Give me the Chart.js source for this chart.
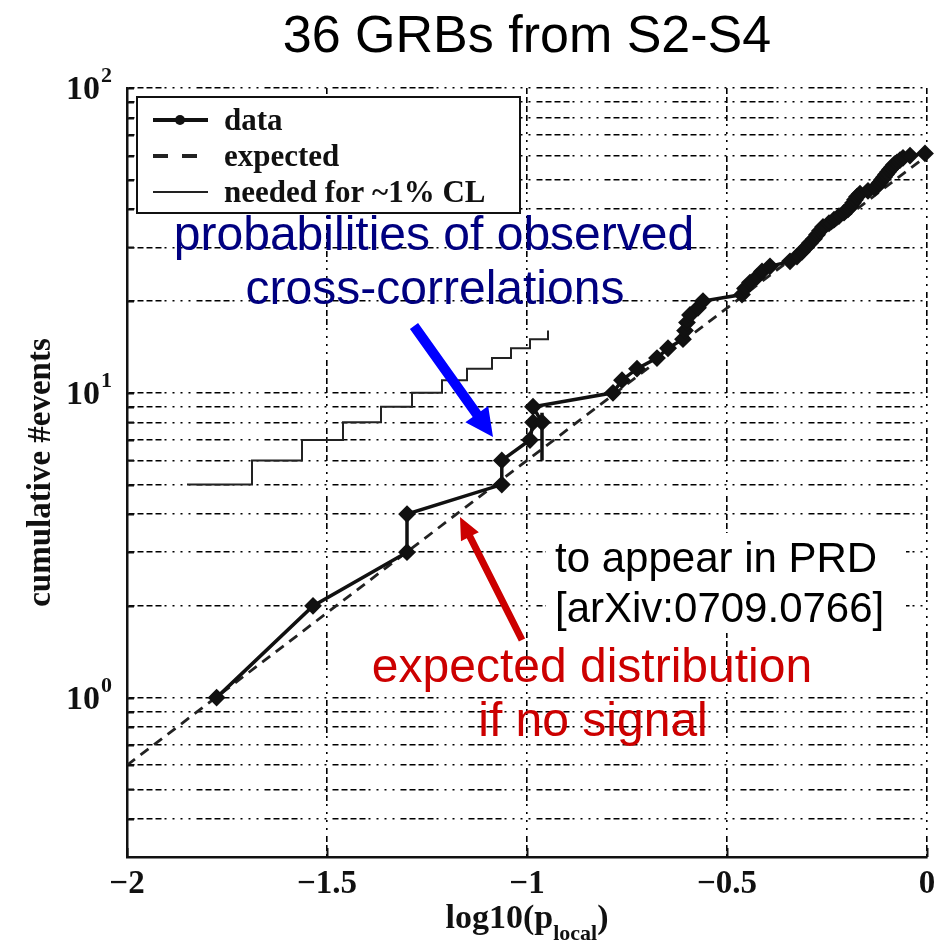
<!DOCTYPE html>
<html>
<head>
<meta charset="utf-8">
<script src="https://cdn.jsdelivr.net/npm/chart.js@4.4.1/dist/chart.umd.min.js"></script>
<style>
  html, body { margin: 0; padding: 0; background: #fff; }
  #c { display: block; }
</style>
</head>
<body>
<canvas id="c" width="944" height="945"></canvas>
<script>
// 36 GRBs from S2-S4: cumulative number of events vs log10(p_local)

// observed cross-correlations (cumulative count)
const dataX = [-1.776, -1.535, -1.30, -1.30, -1.063, -1.063, -0.9925, -0.985, -0.9625, -0.985,
               -0.785, -0.7625, -0.725, -0.675, -0.6475, -0.61, -0.605, -0.60, -0.5925, -0.5725,
               -0.56, -0.4625, -0.455, -0.4425, -0.425, -0.4125, -0.3925, -0.3425, -0.325, -0.3125,
               -0.3025, -0.2925, -0.2825, -0.275, -0.2675, -0.26, -0.245, -0.2325, -0.22, -0.2075,
               -0.1975, -0.19, -0.185, -0.18, -0.175, -0.1675, -0.1475, -0.13, -0.1225, -0.1175,
               -0.1125, -0.1075, -0.1025, -0.0975, -0.0925, -0.0875, -0.0825, -0.075, -0.0675, -0.06,
               -0.0425, -0.005];
const dataY = [1, 2, 3, 4, 5, 6, 7, 8, 8, 9,
               10, 11, 12, 13, 14, 15, 16, 17, 18, 19,
               20, 21, 22, 23, 24, 25, 26, 27, 28, 29,
               30, 31, 32, 33, 34, 35, 36, 37, 38, 39,
               40, 41, 42, 43, 44, 45, 46, 47, 48, 49,
               50, 51, 52, 53, 54, 55, 56, 57, 58, 59,
               60, 61];

// short drop near log10(p) = -0.96
const spikeX = [-0.9625, -0.9625];
const spikeY = [8.6, 6];

// expected distribution if no signal
const expectedX = [-2, 0];
const expectedY = [0.6, 60];

// needed for ~1% CL (staircase)
const neededX = [-1.85, -1.6875, -1.5625, -1.46, -1.365, -1.2875, -1.2125, -1.15, -1.0875, -1.04, -0.9925, -0.9475];
const neededY = [5, 6, 7, 8, 9, 10, 11, 12, 13, 14, 15, 16];

// axes
const xTicks = [-2, -1.5, -1, -0.5, 0];
const yGrid = [0.4, 0.5, 0.6, 0.7, 0.8, 0.9,
               1, 2, 3, 4, 5, 6, 7, 8, 9,
               10, 20, 30, 40, 50, 60, 70, 80, 90, 100];
const yLabelValues = [1, 10, 100];
const yLabelExps = ['0', '1', '2'];

const SERIF = '"Liberation Serif", "DejaVu Serif", serif';
const SANS = '"Liberation Sans", Arial, sans-serif';
const GRID_DASH = [6, 3, 6, 3, 6, 3, 6, 3, 2, 6, 2, 6, 2, 6, 2, 6];

function pts(xs, ys) {
    return xs.map(function (x, i) { return { x: x, y: ys[i] }; });
}

function arrow(ctx, x1, y1, x2, y2, color, shaftW, headW, headL) {
    const ang = Math.atan2(y2 - y1, x2 - x1);
    const len = Math.hypot(x2 - x1, y2 - y1);
    ctx.save();
    ctx.translate(x1, y1);
    ctx.rotate(ang);
    ctx.fillStyle = color;
    ctx.beginPath();
    ctx.moveTo(0, -shaftW / 2);
    ctx.lineTo(len - headL, -shaftW / 2);
    ctx.lineTo(len - headL, -headW / 2);
    ctx.lineTo(len, 0);
    ctx.lineTo(len - headL, headW / 2);
    ctx.lineTo(len - headL, shaftW / 2);
    ctx.lineTo(0, shaftW / 2);
    ctx.closePath();
    ctx.fill();
    ctx.restore();
}

function fmtX(v) {
    return v < 0 ? '\u2212' + Math.abs(v) : String(v);
}

const decorations = {
    id: 'decorations',
    afterDraw: function (chart) {
        const ctx = chart.ctx;
        const a = chart.chartArea;
        const xs = chart.scales.x, ys = chart.scales.y;
        ctx.save();

        // inner tick marks
        ctx.strokeStyle = '#111';
        ctx.lineWidth = 2;
        ctx.beginPath();
        yGrid.forEach(function (v) {
            const py = Math.round(ys.getPixelForValue(v)) + 0.5;
            ctx.moveTo(a.left, py); ctx.lineTo(a.left + 7, py);
        });
        xTicks.forEach(function (v) {
            const px = Math.round(xs.getPixelForValue(v)) + 0.5;
            ctx.moveTo(px, a.bottom); ctx.lineTo(px, a.bottom - 9);
        });
        ctx.stroke();

        // x tick labels
        ctx.fillStyle = '#111';
        ctx.font = 'bold 33px ' + SERIF;
        ctx.textAlign = 'center';
        ctx.textBaseline = 'alphabetic';
        xTicks.forEach(function (v) {
            ctx.fillText(fmtX(v), xs.getPixelForValue(v), a.bottom + 36);
        });

        // y tick labels 10^n
        yLabelValues.forEach(function (v, i) {
            const py = ys.getPixelForValue(v);
            ctx.font = 'bold 34px ' + SERIF;
            ctx.textAlign = 'right';
            ctx.fillText('10', 100, py + 11);
            ctx.font = 'bold 22px ' + SERIF;
            ctx.textAlign = 'left';
            ctx.fillText(yLabelExps[i], 101, py - 6);
        });

        // axis titles
        ctx.save();
        ctx.translate(41, (a.top + a.bottom) / 2);
        ctx.rotate(-Math.PI / 2);
        ctx.font = 'bold 33px ' + SERIF;
        ctx.textAlign = 'center';
        ctx.textBaseline = 'middle';
        ctx.fillText('cumulative #events', 0, 0);
        ctx.restore();

        ctx.textBaseline = 'alphabetic';
        ctx.textAlign = 'left';
        const mainF = 'bold 34px ' + SERIF, subF = 'bold 22px ' + SERIF;
        ctx.font = mainF; const w1 = ctx.measureText('log10(p').width;
        const w3 = ctx.measureText(')').width;
        ctx.font = subF; const w2 = ctx.measureText('local').width;
        let tx = (a.left + a.right) / 2 - (w1 + w2 + w3) / 2;
        ctx.font = mainF; ctx.fillText('log10(p', tx, 928); tx += w1;
        ctx.font = subF; ctx.fillText('local', tx, 940); tx += w2;
        ctx.font = mainF; ctx.fillText(')', tx, 928);

        // legend
        ctx.fillStyle = '#fff';
        ctx.fillRect(137, 97, 383, 116);
        ctx.strokeStyle = '#111';
        ctx.lineWidth = 2;
        ctx.strokeRect(137, 97, 383, 116);
        const rows = [120, 156, 192];
        const labels = chart.data.datasets.filter(function (d) { return d.legend; });
        labels.forEach(function (d, i) {
            const ry = rows[i];
            ctx.save();
            ctx.strokeStyle = d.borderColor;
            ctx.lineWidth = d.legendWidth;
            ctx.setLineDash(d.legendDash || []);
            ctx.beginPath();
            ctx.moveTo(153, ry); ctx.lineTo(d.legendDash ? 197 : 208, ry);
            ctx.stroke();
            if (d.pointRadius) {
                ctx.fillStyle = d.borderColor;
                ctx.beginPath();
                ctx.arc(180, ry, 5, 0, Math.PI * 2);
                ctx.fill();
            }
            ctx.restore();
            ctx.fillStyle = '#111';
            ctx.font = 'bold 31px ' + SERIF;
            ctx.textAlign = 'left';
            ctx.fillText(d.label, 224, ry + 10);
        });

        // title
        ctx.fillStyle = '#000';
        ctx.font = '52px ' + SANS;
        ctx.textAlign = 'center';
        ctx.fillText('36 GRBs from S2-S4', (a.left + a.right) / 2, 52);

        // annotations
        ctx.fillStyle = '#000080';
        ctx.font = '48px ' + SANS;
        ctx.fillText('probabilities of observed', 434, 250);
        ctx.fillText('cross-correlations', 435, 304);
        arrow(ctx, 414, 326, 493, 437, '#0000ff', 10, 28, 28);

        ctx.fillStyle = '#fff';
        ctx.fillRect(546, 533, 360, 100);
        ctx.fillStyle = '#000';
        ctx.font = '42px ' + SANS;
        ctx.textAlign = 'left';
        ctx.fillText('to appear in PRD', 555, 572);
        ctx.fillText('[arXiv:0709.0766]', 555, 622);

        ctx.fillStyle = '#cc0000';
        ctx.font = '48px ' + SANS;
        ctx.textAlign = 'center';
        ctx.fillText('expected distribution', 592, 682);
        ctx.fillText('if no signal', 593, 736);
        arrow(ctx, 522, 640, 460, 517, '#cc0000', 7, 20, 22);

        ctx.restore();
    }
};

const gridOpts = { color: '#000', lineWidth: 1.6, drawTicks: false };
const borderOpts = { display: true, color: '#111', width: 2.5, dash: GRID_DASH };

new Chart(document.getElementById('c'), {
    type: 'line',
    data: {
        datasets: [
            {
                label: 'data', legend: true, legendWidth: 4,
                data: pts(dataX, dataY),
                borderColor: '#111', borderWidth: 3.5,
                pointStyle: 'rectRot', pointRadius: 7.5,
                pointBackgroundColor: '#111', pointBorderColor: '#111', pointBorderWidth: 2,
                tension: 0, clip: false
            },
            {
                label: 'drop', data: pts(spikeX, spikeY),
                borderColor: '#111', borderWidth: 3.5, pointRadius: 0, clip: false
            },
            {
                label: 'expected', legend: true, legendWidth: 4, legendDash: [15, 14],
                data: pts(expectedX, expectedY),
                borderColor: '#222', borderWidth: 2.8, borderDash: [10, 7], pointRadius: 0
            },
            {
                label: 'needed for ~1% CL', legend: true, legendWidth: 2,
                data: pts(neededX, neededY),
                borderColor: '#222', borderWidth: 2, stepped: 'before', pointRadius: 0
            }
        ]
    },
    options: {
        responsive: false,
        animation: false,
        devicePixelRatio: 1,
        layout: { padding: { left: 127, top: 88, right: 17, bottom: 88 } },
        plugins: { legend: { display: false }, tooltip: { enabled: false } },
        scales: {
            x: {
                type: 'linear', min: -2, max: 0,
                afterBuildTicks: function (s) { s.ticks = xTicks.map(function (v) { return { value: v }; }); },
                ticks: { display: false },
                grid: gridOpts, border: borderOpts
            },
            y: {
                type: 'logarithmic', min: 0.3, max: 100,
                afterBuildTicks: function (s) { s.ticks = yGrid.map(function (v) { return { value: v }; }); },
                ticks: { display: false },
                grid: gridOpts, border: borderOpts
            }
        }
    },
    plugins: [decorations]
});
</script>
</body>
</html>
